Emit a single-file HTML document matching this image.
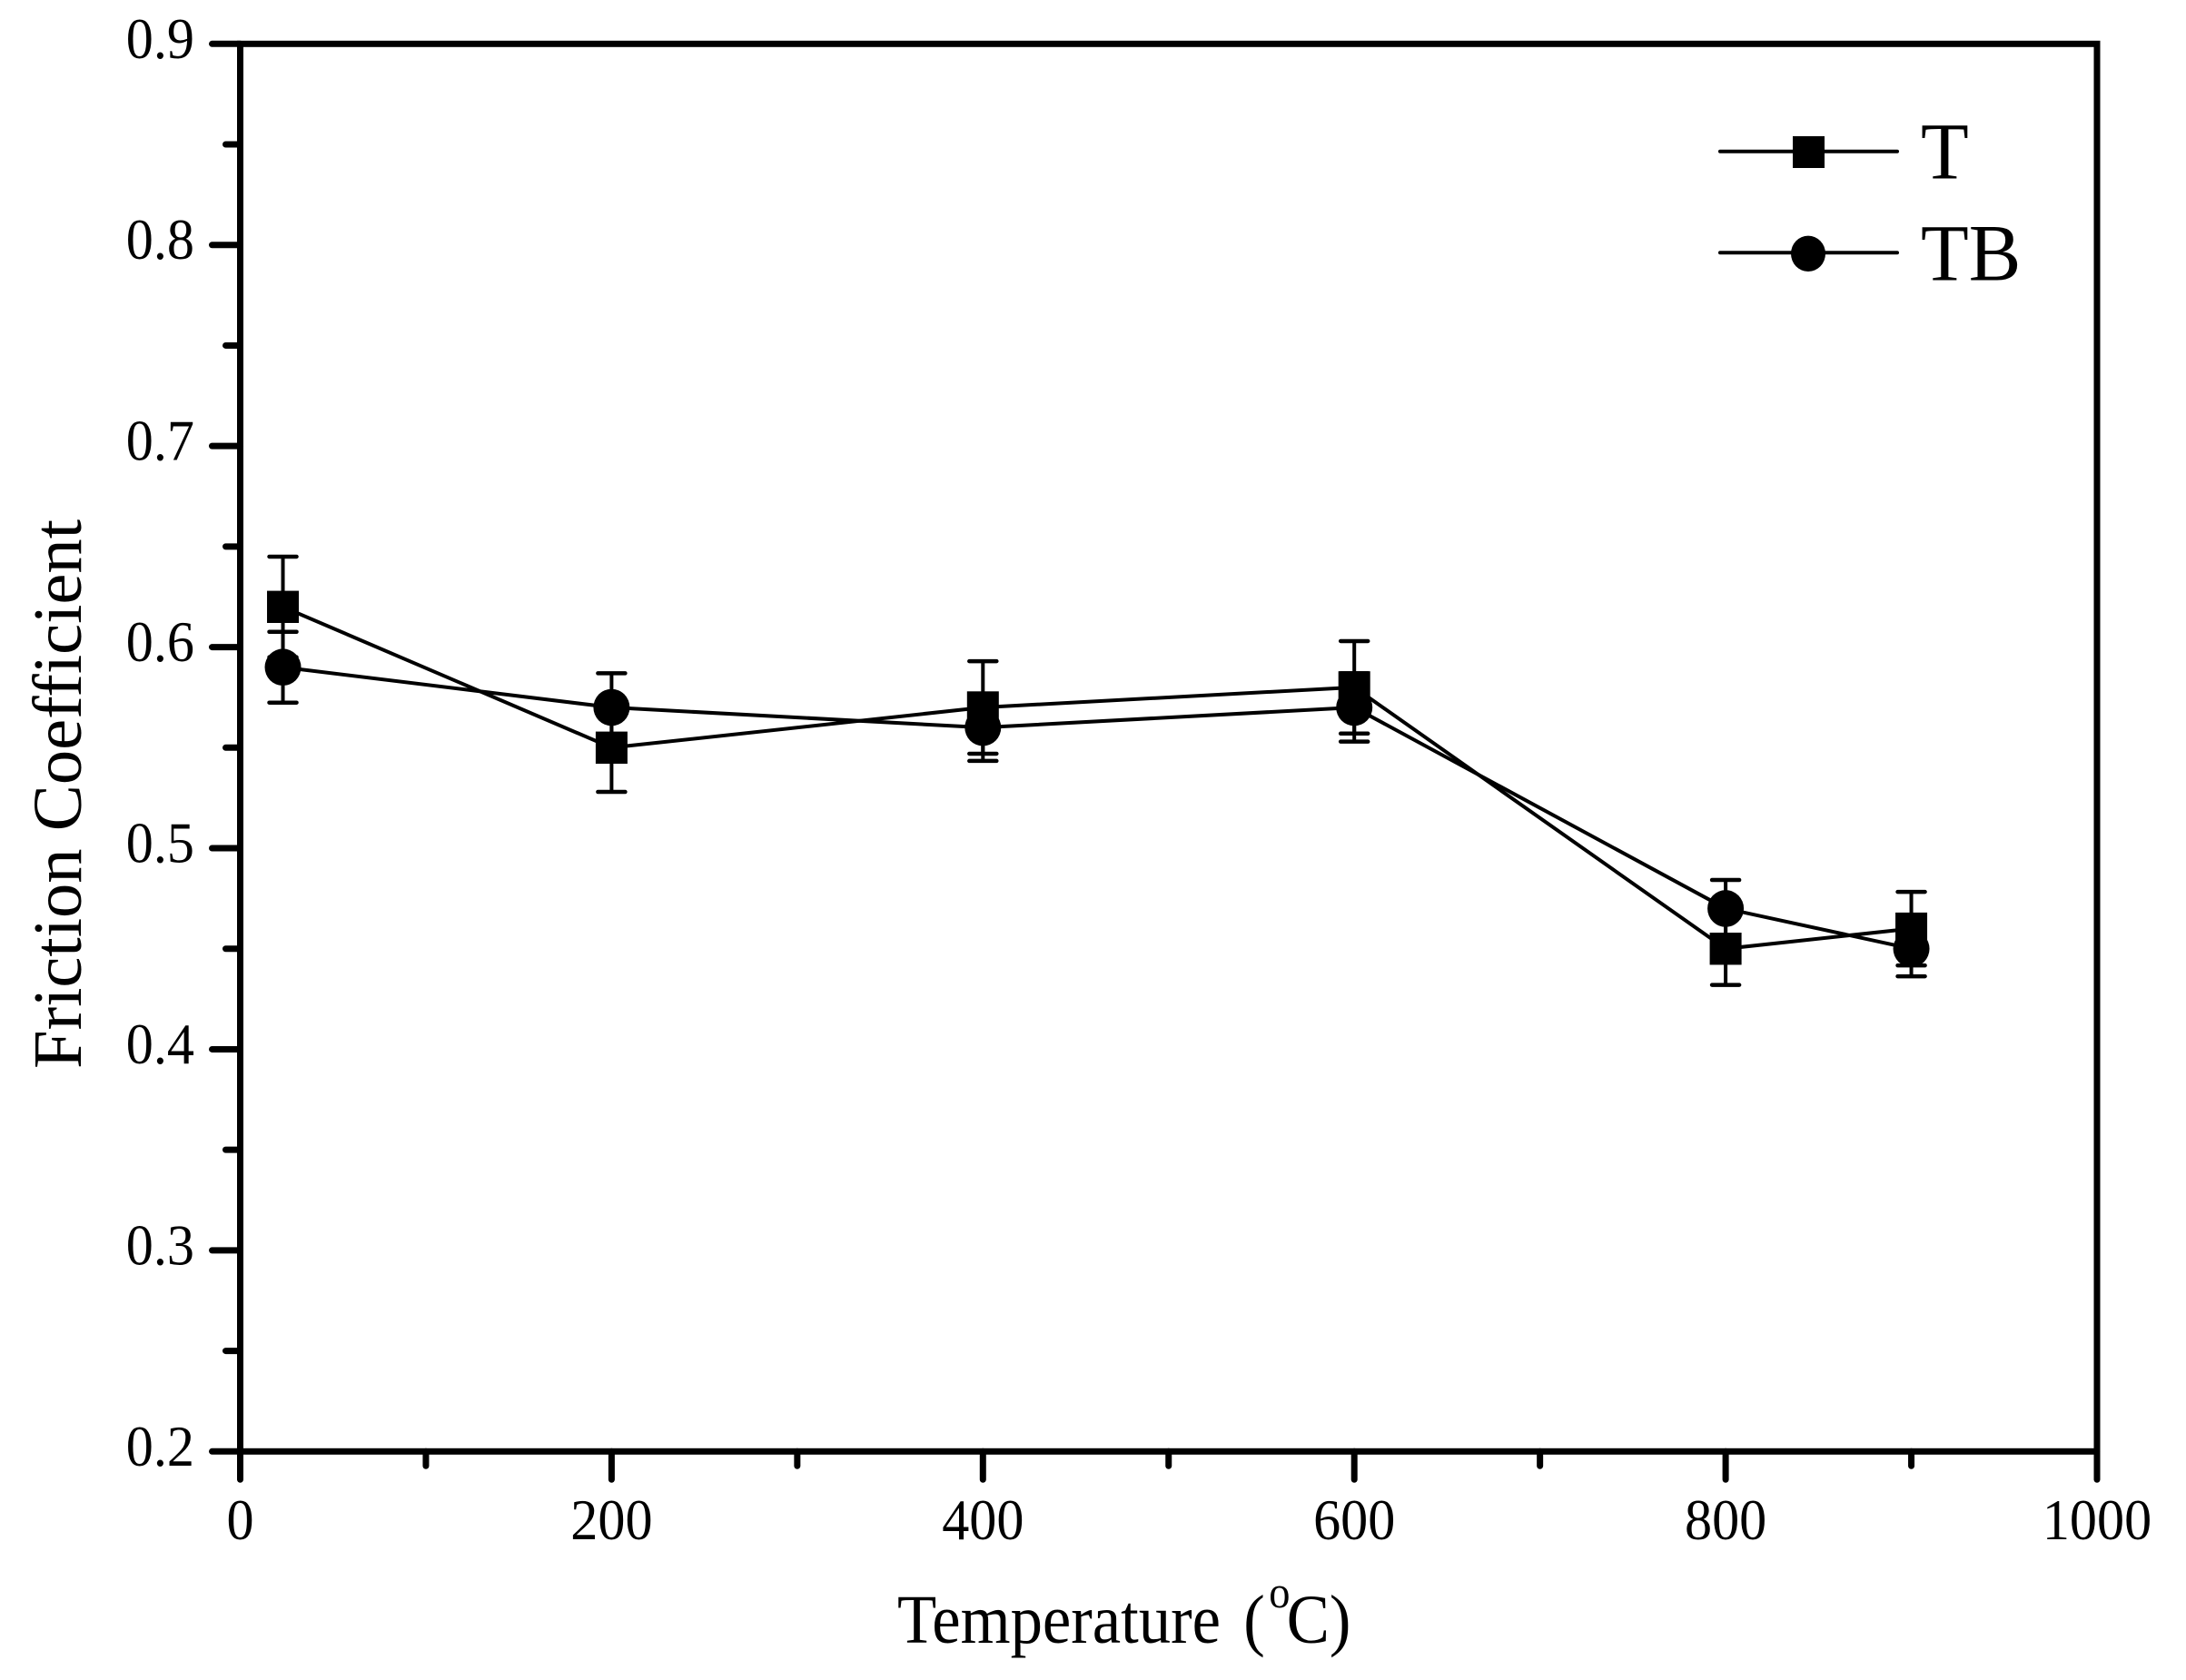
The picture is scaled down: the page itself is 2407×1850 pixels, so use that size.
<!DOCTYPE html>
<html lang="en">
<head>
<meta charset="utf-8">
<title>Friction Coefficient vs Temperature</title>
<style>
html,body{margin:0;padding:0;background:#fff;width:2407px;height:1850px;overflow:hidden}
svg{display:block}
text{font-family:"Liberation Serif","Times New Roman",serif;fill:#000}
</style>
</head>
<body>
<svg id="chart" xmlns="http://www.w3.org/2000/svg" width="2407" height="1850" viewBox="0 0 2407 1850">
  <rect x="0" y="0" width="2407" height="1850" fill="#fff"/>
  <g id="ticks"></g>
  <rect x="264.5" y="48.3" width="2044.5" height="1550" fill="none" stroke="#000" stroke-width="7"/>
  <g id="tick-labels"></g>
  <g id="series"></g>

  <text transform="translate(988,1809) scale(.93,1)" font-size="76">Temperature <tspan x="410" y="0">(</tspan><tspan x="440" y="-39" font-size="50">o</tspan><tspan x="461" y="0">C)</tspan></text>
  <text transform="translate(89,1177) rotate(-90)" font-size="76" textLength="605" lengthAdjust="spacingAndGlyphs">Friction Coefficient</text>

  <g>
    <g>
      <line x1="1894" y1="166.7" x2="2089" y2="166.7" stroke="#000" stroke-width="4" stroke-linecap="round"/>
      <rect x="1974" y="150" width="35" height="35" fill="#000"/>
      <text transform="translate(2115,196.5) scale(.97,1)" font-size="89">T</text>
    </g>
    <g>
      <line x1="1894" y1="278.3" x2="2089" y2="278.3" stroke="#000" stroke-width="4" stroke-linecap="round"/>
      <ellipse cx="1991" cy="279.3" rx="19" ry="19.7" fill="#000"/>
      <text transform="translate(2115,308.5) scale(.97,1)" font-size="89">TB</text>
    </g>
  </g>
</svg>

<script>
const temperatures = [23, 200, 400, 600, 800, 900];
const seriesT = [0.62, 0.55, 0.57, 0.58, 0.45, 0.46];
const errorsT = [0.025, 0.022, 0.023, 0.023, 0.018, 0.0183];
const seriesTB = [0.59, 0.57, 0.56, 0.57, 0.47, 0.45];
const errorsTB = [0.0176, 0.017, 0.0166, 0.017, 0.0142, 0.0137];
const xMajorTicks = [0, 200, 400, 600, 800, 1000];
const xMinorTicks = [100, 300, 500, 700, 900];
const yMajorTicks = [0.2, 0.3, 0.4, 0.5, 0.6, 0.7, 0.8, 0.9];
const yMinorTicks = [0.25, 0.35, 0.45, 0.55, 0.65, 0.75, 0.85];
const xTickLabels = ['0', '200', '400', '600', '800', '1000'];
const yTickLabels = ['0.2', '0.3', '0.4', '0.5', '0.6', '0.7', '0.8', '0.9'];

const NS = 'http://www.w3.org/2000/svg';
const xDomain = [0, 1000], yDomain = [0.2, 0.9];
const plot = {left: 264.5, right: 2309, top: 48.3, bottom: 1598.3};
const xScale = v => plot.left + (v - xDomain[0]) / (xDomain[1] - xDomain[0]) * (plot.right - plot.left);
const yScale = v => plot.bottom - (v - yDomain[0]) / (yDomain[1] - yDomain[0]) * (plot.bottom - plot.top);

function make(tag, parent, attrs) {
  const el = document.createElementNS(NS, tag);
  Object.keys(attrs).forEach(k => el.setAttribute(k, attrs[k]));
  parent.appendChild(el);
  return el;
}
function stroke(parent, x1, y1, x2, y2, w, cap) {
  return make('line', parent, {x1, y1, x2, y2, stroke: '#000', 'stroke-width': w, 'stroke-linecap': cap});
}

const tickGroup = document.getElementById('ticks');
const labelGroup = document.getElementById('tick-labels');
const seriesGroup = document.getElementById('series');

xMajorTicks.forEach((v, i) => {
  const x = xScale(v);
  const tick = stroke(tickGroup, x, plot.bottom, x, plot.bottom + 31, 7, 'round');
  
  
  const label = make('text', labelGroup, {transform: `translate(${x},1695) scale(.94,1)`, 'font-size': 64, 'text-anchor': 'middle'});
  label.textContent = xTickLabels[i];
  
  
});
xMinorTicks.forEach(v => {
  const x = xScale(v);
  const tick = stroke(tickGroup, x, plot.bottom, x, plot.bottom + 16, 7, 'round');
  
  
});
yMajorTicks.forEach((v, i) => {
  const y = yScale(v);
  const tick = stroke(tickGroup, plot.left, y, plot.left - 31, y, 7, 'round');
  
  
  const label = make('text', labelGroup, {transform: `translate(214,${y + 15.5}) scale(.94,1)`, 'font-size': 64, 'text-anchor': 'end'});
  label.textContent = yTickLabels[i];
  
  
});
yMinorTicks.forEach(v => {
  const y = yScale(v);
  const tick = stroke(tickGroup, plot.left, y, plot.left - 16, y, 7, 'round');
  
  
});

function drawLine(values, name) {
  const pts = temperatures.map((t, i) => xScale(t) + ',' + yScale(values[i])).join(' ');
  const line = make('polyline', seriesGroup, {points: pts, fill: 'none', stroke: '#000', 'stroke-width': 4, 'stroke-linejoin': 'round'});
  
  
}
function drawErrors(values, errors, name) {
  temperatures.forEach((t, i) => {
    const x = xScale(t), hi = yScale(values[i] + errors[i]), lo = yScale(values[i] - errors[i]);
    const g = make('g', seriesGroup, {});
    
    
    stroke(g, x, hi, x, lo, 4, 'butt');
    stroke(g, x - 15, hi, x + 15, hi, 4.5, 'round');
    stroke(g, x - 15, lo, x + 15, lo, 4.5, 'round');
  });
}

drawLine(seriesT, 'series-t-line');
drawLine(seriesTB, 'series-tb-line');
drawErrors(seriesT, errorsT, 'series-t-error-bar');
drawErrors(seriesTB, errorsTB, 'series-tb-error-bar');

temperatures.forEach((t, i) => {
  const square = make('rect', seriesGroup, {x: xScale(t) - 17.5, y: yScale(seriesT[i]) - 17.7, width: 35, height: 35.4, fill: '#000'});
  
  
});
temperatures.forEach((t, i) => {
  const dot = make('ellipse', seriesGroup, {cx: xScale(t), cy: yScale(seriesTB[i]), rx: 20, ry: 20.3, fill: '#000'});
  
  
});
</script>
</body>
</html>
